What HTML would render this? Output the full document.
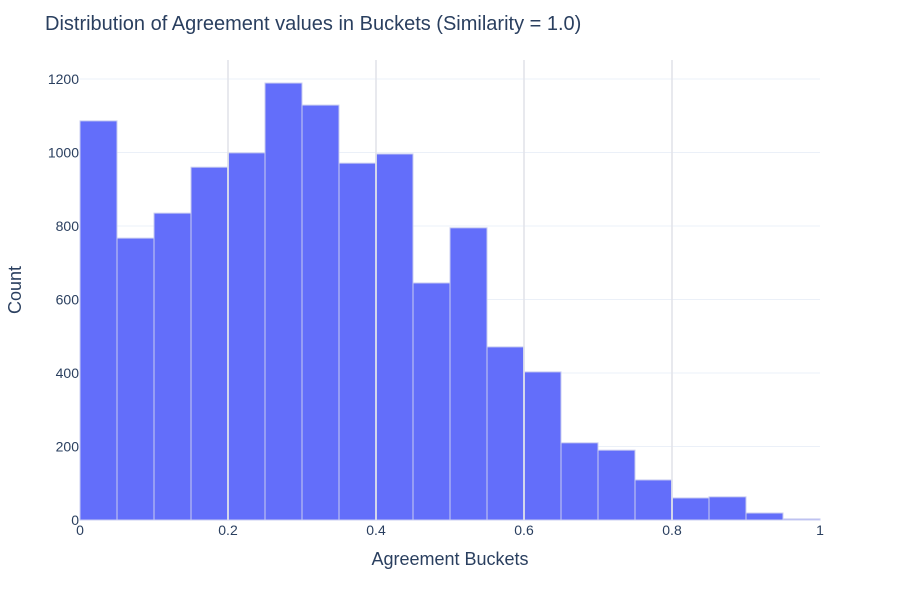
<!DOCTYPE html>
<html><head><meta charset="utf-8"><style>
body{margin:0;background:#fff;font-family:"Liberation Sans",Arial,sans-serif}
text{font-family:"Liberation Sans",Arial,sans-serif}
</style></head><body>
<svg id="chart" width="900" height="600">
<text x="45" y="30" font-size="20" fill="#2a3f5f">Distribution of Agreement values in Buckets (Similarity = 1.0)</text>
<g id="grid"></g><g id="bars"></g><g id="vgrid"></g><g id="axes"></g>
<text x="450" y="565" font-size="18" fill="#2a3f5f" text-anchor="middle">Agreement Buckets</text>
<text x="21" y="290" font-size="18" fill="#2a3f5f" text-anchor="middle" transform="rotate(-90 21 290)">Count</text>
</svg>
<script>
const binStarts=[0,0.05,0.1,0.15,0.2,0.25,0.3,0.35,0.4,0.45,0.5,0.55,0.6,0.65,0.7,0.75,0.8,0.85,0.9,0.95];
const counts=[1086,767,835,960,999,1189,1129,971,996,645,795,471,403,210,190,109,60,63,19,3];
const binWidth=0.05;
const yTicks=[0,200,400,600,800,1000,1200];
const xTicks=[0,0.2,0.4,0.6,0.8,1];
const xTickLabels=["0","0.2","0.4","0.6","0.8","1"];
const X0=80,X1=820,Y0=520,YTOP=60;
const xs=v=>X0+v*(X1-X0);
const ys=v=>Y0-v*(441/1200);
const NS="http://www.w3.org/2000/svg";
function mk(tag,attrs,parent){const e=document.createElementNS(NS,tag);for(const k in attrs)e.setAttribute(k,attrs[k]);document.getElementById(parent).appendChild(e);return e;}
yTicks.forEach(t=>{
 if(t>0){const l=mk('line',{x1:X0,x2:X1,y1:ys(t),y2:ys(t),stroke:'#ebf0f8','stroke-width':1},'grid');
 
 }
 const tx=mk('text',{x:X0-1,y:ys(t)+5,'font-size':14,fill:'#2a3f5f','text-anchor':'end'},'axes');tx.textContent=t;
 
 
});
binStarts.forEach((b,i)=>{
 const r=mk('rect',{x:xs(b),y:ys(counts[i]),width:xs(b+binWidth)-xs(b),height:Y0-ys(counts[i]),fill:'#636efa',stroke:'#c8ccf0','stroke-width':1},'bars');
 
 
});
xTicks.forEach((t,i)=>{
 if(t>0&&t<1){const l=mk('line',{x1:xs(t),x2:xs(t),y1:YTOP,y2:Y0,stroke:'#e2e4ea','stroke-width':2,'stroke-opacity':0.8},'vgrid');
 
 }
 const tx=mk('text',{x:xs(t),y:Y0+15,'font-size':14,fill:'#2a3f5f','text-anchor':'middle'},'axes');tx.textContent=xTickLabels[i];
 
 
});
</script>
</body></html>
